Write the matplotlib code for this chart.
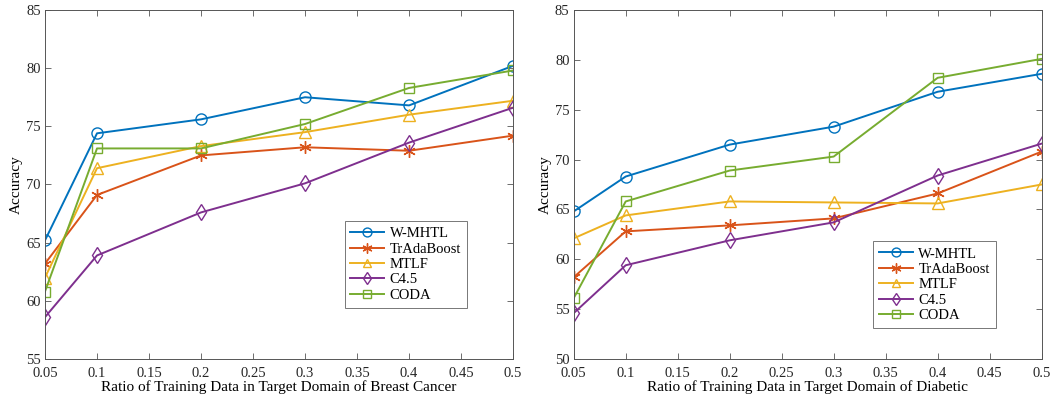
import matplotlib.pyplot as plt

plt.rcParams['font.family'] = ['Liberation Serif', 'DejaVu Serif']
plt.rcParams['font.size'] = 10.5

ratios = [0.05, 0.1, 0.2, 0.3, 0.4, 0.5]
methods = ["W-MHTL", "TrAdaBoost", "MTLF", "C4.5", "CODA"]

# breast cancer
bc_wmhtl = [65.2, 74.4, 75.6, 77.5, 76.8, 80.2]
bc_tradaboost = [63.2, 69.1, 72.5, 73.2, 72.9, 74.2]
bc_mtlf = [62.0, 71.4, 73.3, 74.5, 76.0, 77.2]
bc_c45 = [58.6, 63.9, 67.6, 70.1, 73.6, 76.6]
bc_coda = [60.8, 73.1, 73.1, 75.2, 78.3, 79.8]

# diabetic
db_wmhtl = [64.8, 68.3, 71.5, 73.3, 76.8, 78.6]
db_tradaboost = [58.2, 62.8, 63.4, 64.1, 66.6, 70.8]
db_mtlf = [62.1, 64.4, 65.8, 65.7, 65.6, 67.5]
db_c45 = [54.6, 59.4, 61.9, 63.7, 68.4, 71.6]
db_coda = [56.1, 65.8, 68.9, 70.3, 78.2, 80.1]

colors = ["#0072BD", "#D95319", "#EDB120", "#7E2F8E", "#77AC30"]
markers = ["o", (6, 2, 0), "^", "d", "s"]
msizes = [8, 9, 8, 8, 6.5]

fig = plt.figure(figsize=(10.64, 4.03), dpi=100)
ax1 = fig.add_axes([0.0423, 0.1092, 0.4399, 0.8660])
ax2 = fig.add_axes([0.5392, 0.1092, 0.4398, 0.8660])


def draw(ax, series, ylim, xlabel, legend_pos):
    for ys, name, c, m, ms in zip(series, methods, colors, markers, msizes):
        ax.plot(ratios, ys, color=c, marker=m, markersize=ms, markerfacecolor="none",
                markeredgewidth=1.0, linewidth=1.4, label=name)
    ax.set_xlim(0.05, 0.5)
    ax.set_ylim(*ylim)
    ax.set_xticks([0.05, 0.1, 0.15, 0.2, 0.25, 0.3, 0.35, 0.4, 0.45, 0.5])
    ax.set_xticklabels(["0.05", "0.1", "0.15", "0.2", "0.25", "0.3", "0.35", "0.4", "0.45", "0.5"])
    ax.set_yticks(range(ylim[0], ylim[1] + 1, 5))
    ax.tick_params(direction="in", top=True, right=True, length=4, width=0.6,
                   labelsize=10.5, colors="#555555", labelcolor="#262626")
    ax.tick_params(axis="x", pad=6)
    ax.tick_params(axis="y", pad=3)
    for s in ax.spines.values():
        s.set_linewidth(0.7)
        s.set_color("#555555")
    ax.set_xlabel(xlabel, fontsize=11, labelpad=0)
    ax.set_ylabel("Accuracy", fontsize=11, labelpad=2)
    leg = ax.legend(loc="lower left", bbox_to_anchor=legend_pos, fontsize=10.5,
                    frameon=True, fancybox=False, borderpad=0.4, handlelength=2.3,
                    labelspacing=0.15, handletextpad=0.4, borderaxespad=0,
                    markerscale=0.8)
    leg.get_frame().set_edgecolor("#555555")
    leg.get_frame().set_linewidth(0.7)


draw(ax1, [bc_wmhtl, bc_tradaboost, bc_mtlf, bc_c45, bc_coda], (55, 85),
     "Ratio of Training Data in Target Domain of Breast Cancer", (0.64, 0.147))
draw(ax2, [db_wmhtl, db_tradaboost, db_mtlf, db_c45, db_coda], (50, 85),
     "Ratio of Training Data in Target Domain of Diabetic", (0.64, 0.089))

fig.savefig("out.png", dpi=100)
